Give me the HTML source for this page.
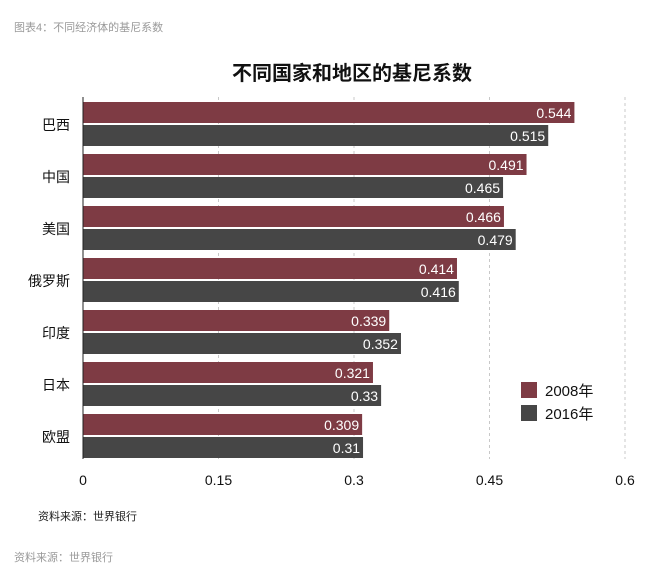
<!DOCTYPE html>
<html><head><meta charset="utf-8">
<style>
body{margin:0;background:#fff;font-family:"Liberation Sans","Noto Sans CJK SC",sans-serif;}
#wrap{position:relative;width:667px;height:571px;overflow:hidden;}
</style></head>
<body>
<div id="wrap">
<svg id="chart" width="667" height="571" xmlns="http://www.w3.org/2000/svg">
<text x="14" y="31" font-size="11" fill="#9a9a9a">图表4：不同经济体的基尼系数</text>
<text x="352" y="80" font-size="20" font-weight="bold" text-anchor="middle" fill="#111">不同国家和地区的基尼系数</text>
<g id="grid"></g><g id="bars"></g><g id="xticks"></g><g id="ylabels"></g>
<line x1="83" y1="97" x2="83" y2="459" stroke="#222" stroke-width="1"/>
<g>
<rect x="521" y="382" width="16" height="16" fill="#7e3b44"/>
<text x="545" y="396" font-size="15" fill="#111">2008年</text>
<rect x="521" y="405" width="16" height="16" fill="#464646"/>
<text x="545" y="419" font-size="15" fill="#111">2016年</text>
</g>
<text x="38" y="520" font-size="11" fill="#222">资料来源：世界银行</text>
<text x="14" y="561" font-size="11" fill="#9a9a9a">资料来源：世界银行</text>
</svg>
</div>
<script>
const categories=["巴西","中国","美国","俄罗斯","印度","日本","欧盟"];
const values2008=[0.544,0.491,0.466,0.414,0.339,0.321,0.309];
const values2016=[0.515,0.465,0.479,0.416,0.352,0.33,0.31];
const labels2008=["0.544","0.491","0.466","0.414","0.339","0.321","0.309"];
const labels2016=["0.515","0.465","0.479","0.416","0.352","0.33","0.31"];
const tickValues=[0,0.15,0.3,0.45,0.6];
const tickLabels=["0","0.15","0.3","0.45","0.6"];
const NS="http://www.w3.org/2000/svg";
const x0=83,x1=625,xmax=0.6;
function xs(v){return x0+(v/xmax)*(x1-x0);}
function ys(i){return 102+i*52;}
function mk(tag,attrs,parent){const e=document.createElementNS(NS,tag);for(const k in attrs)e.setAttribute(k,attrs[k]);parent.appendChild(e);return e;}
const grid=document.getElementById('grid'),bars=document.getElementById('bars'),xt=document.getElementById('xticks'),yl=document.getElementById('ylabels');
tickValues.forEach((v,i)=>{
  if(v>0){const l=mk('line',{x1:xs(v),x2:xs(v),y1:97,y2:459,stroke:'#c8c8c8','stroke-dasharray':'3,3'},grid);
  
  }
  const t=mk('text',{x:xs(v),y:485,'font-size':14,'text-anchor':'middle',fill:'#111'},xt);
  t.textContent=tickLabels[i];
  
  
});
categories.forEach((c,i)=>{
  const y=ys(i);
  const r1=mk('rect',{x:x0,y:y,width:xs(values2008[i])-x0,height:21,fill:'#7e3b44'},bars);
  
  
  const t1=mk('text',{x:xs(values2008[i])-3,y:y+16,'font-size':14,'text-anchor':'end',fill:'#fff'},bars);
  t1.textContent=labels2008[i];
  
  
  const r2=mk('rect',{x:x0,y:y+23,width:xs(values2016[i])-x0,height:21,fill:'#464646'},bars);
  
  
  const t2=mk('text',{x:xs(values2016[i])-3,y:y+39,'font-size':14,'text-anchor':'end',fill:'#fff'},bars);
  t2.textContent=labels2016[i];
  
  
  const cl=mk('text',{x:70,y:y+28,'font-size':14,'text-anchor':'end',fill:'#111'},yl);
  cl.textContent=c;
  
  
});
</script>
</body></html>
